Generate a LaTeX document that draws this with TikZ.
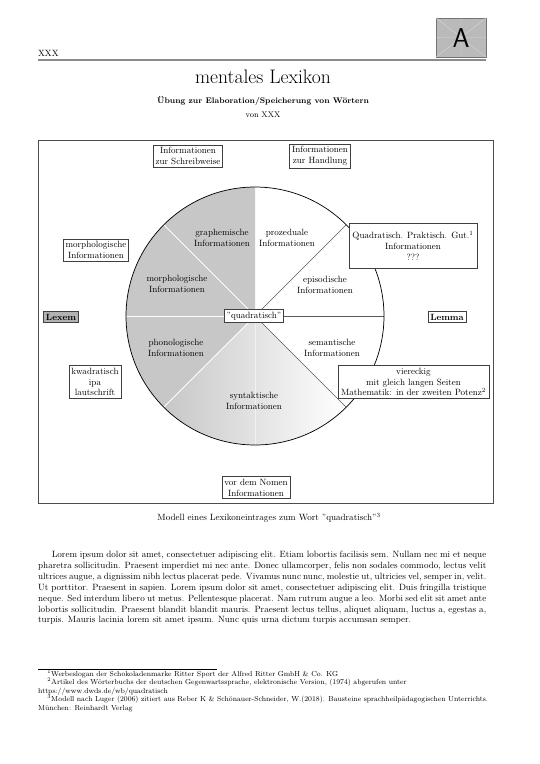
\documentclass[tikz,border=0pt]{standalone}
\usepackage{fontspec}
\begin{document}
\begin{tikzpicture}[x=1.1024pt,y=-1.1024pt,
  box/.style={draw=black!75, fill=white, line width=0.6pt, align=center, inner sep=2.5pt, font=\normalsize},
  lbl/.style={align=center, inner sep=0pt, font=\normalsize},
  white line/.style={white, line width=1pt},
  dark line/.style={black!65, line width=0.5pt}]
\useasboundingbox (0,0) rectangle (540,764);
% header
\node[anchor=base west, inner sep=0pt] (hdr) at (38,56) {XXX};
\draw[black!45, line width=1.2pt] (38,60) coordinate (hl) -- (486,60) coordinate (hr);
\node[draw=black!55, fill=black!27, minimum width=50*1.1024pt, minimum height=39*1.1024pt, inner sep=0pt] (abox) at (461,37.5) {};
\draw[black!15, line width=0.4pt] (abox.north west) -- (abox.south east) (abox.south west) -- (abox.north east) (abox.north) -- (abox.south) (abox.west) -- (abox.east);
\node[font=\sffamily\fontsize{30}{30}\selectfont, inner sep=0pt] (atext) at (461,38) {A};
% title
\node[font=\fontsize{21.6}{26}\selectfont, inner sep=0pt] (title) at (263,77) {mentales Lexikon};
\node[font=\small\bfseries, inner sep=0pt] (sub) at (263,101) {Übung zur Elaboration/Speicherung von Wörtern};
\node[font=\small, inner sep=0pt] (von) at (263,115) {von XXX};
% frame
\draw[black!70, line width=0.6pt] (38,140) rectangle (493,503);
% pie
\begin{scope}[shift={(255,316)}]
  \def\R{142.2pt}
  \fill[black!22] (0,0) -- (90:\R) arc[start angle=90, end angle=225, radius=\R] -- cycle;
  \shade[left color=black!22, right color=white] (0,0) -- (225:\R) arc[start angle=225, end angle=315, radius=\R] -- cycle;
  \draw[white line] (0,0) -- (135:\R);
  \draw[white line] (0,0) -- (180:\R);
  \draw[white line] (0,0) -- (225:\R);
  \draw[white, line width=0.8pt, opacity=0.5] (0,0) -- (270:\R);
  \draw[dark line] (0,0) -- (45:\R);
  \draw[dark line] (0,0) -- (0:\R);
  \draw[dark line] (0,0) -- (-45:\R);
  \draw[black, line width=0.8pt] (0,0) circle[radius=\R];
\end{scope}
% sector labels
\node[lbl] (graph) at (222,238) {graphemische\\Informationen};
\node[lbl] (proz) at (287,238) {prozeduale\\Informationen};
\node[lbl] (morphin) at (177,284) {morphologische\\Informationen};
\node[lbl] (epi) at (325,285) {episodische\\Informationen};
\node[lbl] (phon) at (176,348) {phonologische\\Informationen};
\node[lbl] (sem) at (332,348) {semantische\\Informationen};
\node[lbl] (synt) at (254,401) {syntaktische\\Informationen};
% boxes
\node[box] (quad) at (254,316) {"quadratisch"};
\node[box] (schreib) at (188,156) {Informationen\\zur Schreibweise};
\node[box] (hand) at (320,156) {Informationen\\zur Handlung};
\node[box] (morph) at (96,250) {morphologische\\Informationen};
\node[box, fill=black!30, font=\normalsize\bfseries] (lexem) at (61,317) {Lexem};
\node[box, font=\normalsize\bfseries] (lemma) at (447,317) {Lemma};
\node[box] (kwad) at (95,382) {kwadratisch\\ipa\\lautschrift};
\node[box, minimum height=45*1.1024pt, minimum width=128*1.1024pt] (gut) at (413,245.5) {Quadratisch. Praktisch. Gut.\textsuperscript{1}\\Informationen\\???};
\node[box, minimum width=151*1.1024pt] (vier) at (413.5,382) {viereckig\\mit gleich langen Seiten\\Mathematik: in der zweiten Potenz\textsuperscript{2}};
\node[box] (nomen) at (256,487.5) {vor dem Nomen\\Informationen};
% caption
\node[inner sep=0pt, font=\normalsize] (cap) at (269,518) {Modell eines Lexikoneintrages zum Wort "quadratisch"\textsuperscript{3}};
% paragraph
\node[anchor=north west, inner sep=0pt, text width=494pt, align=justify, font=\normalsize] (para) at (38,551) {\hspace*{15pt}Lorem ipsum dolor sit amet, consectetuer adipiscing elit. Etiam lobortis facilisis sem. Nullam nec mi et neque\linebreak pharetra sollicitudin. Praesent imperdiet mi nec ante. Donec ullamcorper, felis non sodales commodo, lectus velit\linebreak ultrices augue, a dignissim nibh lectus placerat pede. Vivamus nunc nunc, molestie ut, ultricies vel, semper in, velit.\linebreak Ut porttitor. Praesent in sapien. Lorem ipsum dolor sit amet, consectetuer adipiscing elit. Duis fringilla tristique\linebreak neque. Sed interdum libero ut metus. Pellentesque placerat. Nam rutrum augue a leo. Morbi sed elit sit amet ante\linebreak lobortis sollicitudin. Praesent blandit blandit mauris. Praesent lectus tellus, aliquet aliquam, luctus a, egestas a,\linebreak turpis. Mauris lacinia lorem sit amet ipsum. Nunc quis urna dictum turpis accumsan semper.};
% footnotes
\draw[black, line width=0.4pt] (38,669) coordinate (fl) -- (217,669) coordinate (fr);
\node[anchor=base west, inner sep=0pt, font=\footnotesize] (fn1) at (38,676) {\hbox to 14.4pt{\hfill\textsuperscript{1}}Werbeslogan der Schokoladenmarke Ritter Sport der Alfred Ritter GmbH \& Co. KG};
\node[anchor=base west, inner sep=0pt, font=\footnotesize] (fn2) at (38,684.5) {\hbox to 14.4pt{\hfill\textsuperscript{2}}Artikel des Wörterbuchs der deutschen Gegenwartssprache, elektronische Version, (1974) abgerufen unter};
\node[anchor=base west, inner sep=0pt, font=\footnotesize] (fn2b) at (38,693) {https://www.dwds.de/wb/quadratisch};
\node[anchor=base west, inner sep=0pt, font=\footnotesize] (fn3) at (38,701.5) {\hbox to 14.4pt{\hfill\textsuperscript{3}}Modell nach Luger (2006) zitiert aus Reber K \& Schönauer-Schneider, W.(2018). Bausteine sprachheilpädagogischen Unterrichts.};
\node[anchor=base west, inner sep=0pt, font=\footnotesize] (fn3b) at (38,710) {München: Reinhardt Verlag};
\end{tikzpicture}
\end{document}
